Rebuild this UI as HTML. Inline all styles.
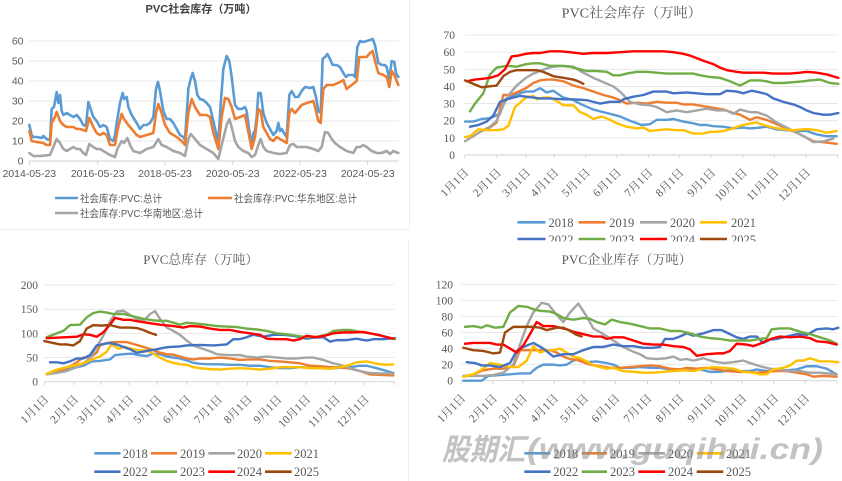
<!DOCTYPE html>
<html><head><meta charset="utf-8"><style>
html,body{margin:0;padding:0;background:#fff;}
svg{display:block;}
.s{font-family:"Liberation Sans","Noto Sans CJK SC",sans-serif;}
.r{font-family:"Liberation Serif","Noto Serif CJK SC",serif;}
.g{stroke:#E3E3E3;stroke-width:0.8;}
.ax{stroke:#D0D0D0;stroke-width:0.9;}
.ln{fill:none;stroke-width:2.4;stroke-linejoin:round;stroke-linecap:round;}
.ln2{fill:none;stroke-width:2.6;stroke-linejoin:round;stroke-linecap:round;}
.ln polyline,.ln2 polyline{vector-effect:non-scaling-stroke;}
</style></head><body>
<svg width="842" height="481" viewBox="0 0 842 481" xmlns="http://www.w3.org/2000/svg">
<rect width="842" height="481" fill="#fff"/>
<line x1="409.5" y1="0" x2="409.5" y2="229" stroke="#EDEDED"/>
<line x1="0" y1="229.5" x2="409.5" y2="229.5" stroke="#EDEDED"/>
<line x1="408.5" y1="240" x2="408.5" y2="481" stroke="#EFEFEF"/>

<!-- ========== TOP LEFT ========== -->
<g class="s">
<text x="201" y="12.5" text-anchor="middle" font-weight="bold" font-size="11" fill="#404040" textLength="111" lengthAdjust="spacingAndGlyphs">PVC社会库存（万吨）</text>
<g class="g">
<line x1="29.3" y1="141" x2="399" y2="141"/><line x1="29.3" y1="121" x2="399" y2="121"/>
<line x1="29.3" y1="101" x2="399" y2="101"/><line x1="29.3" y1="81" x2="399" y2="81"/>
<line x1="29.3" y1="61" x2="399" y2="61"/><line x1="29.3" y1="41" x2="399" y2="41"/>
</g>
<g class="ax">
<line x1="29.3" y1="161" x2="399" y2="161"/>
<line x1="29.3" y1="161" x2="29.3" y2="165"/><line x1="97.7" y1="161" x2="97.7" y2="165"/>
<line x1="165" y1="161" x2="165" y2="165"/><line x1="232.7" y1="161" x2="232.7" y2="165"/>
<line x1="300" y1="161" x2="300" y2="165"/><line x1="367.7" y1="161" x2="367.7" y2="165"/>
</g>
<g font-size="10.5" fill="#595959" text-anchor="end">
<text x="23.5" y="164.5">0</text><text x="23.5" y="144.5">10</text><text x="23.5" y="124.5">20</text>
<text x="23.5" y="104.5">30</text><text x="23.5" y="84.5">40</text><text x="23.5" y="64.5">50</text><text x="23.5" y="44.5">60</text>
</g>
<g font-size="10.5" fill="#595959" text-anchor="middle">
<text x="29.3" y="177">2014-05-23</text><text x="97.7" y="177">2016-05-23</text><text x="165" y="177">2018-05-23</text>
<text x="232.7" y="177">2020-05-23</text><text x="300" y="177">2022-05-23</text><text x="367.7" y="177">2024-05-23</text>
</g>
<g class="ln2" transform="matrix(0.333333 0 0 -2 0 161)">
<polyline stroke="#5B9BD5" points="88,18 95,13 100,12 110,12 125,11.5 130,12.5 140,11 150,10.5 155,26 162,27 170,34.5 175,29 180,33 185,25 190,23 200,24 210,23 220,22 230,23 240,21 250,18 258,17.5 265,29.5 272,26 280,22 290,20 300,17 310,18 320,17 330,11 340,10 345,13 352,21 360,29 368,34 372,31 380,32 385,27 395,23 410,19 420,16 430,18 440,18 450,19 460,22 468,36 474,39.5 480,35 490,25 500,21 510,21 520,19 530,16 540,13 550,12 555,10.5 565,36 572,41 578,44 585,40 592,33 600,31 610,30.5 620,29 630,27 640,20 648,14 655,10 662,28 670,46 680,52.5 688,50 695,42 705,28 715,26 725,26 735,27 740,25 748,15 755,8 760,14 765,15 770,22 775,34 782,34 790,24 800,19 810,16 820,13 830,15 835,19 840,15 845,16 852,14 860,12 868,33 875,35 885,32 895,32 905,35 915,37 930,36.5 940,37 948,32 955,25 962,24 968,51 975,52 982,53.5 990,51 998,48 1010,48 1020,47 1030,44 1038,42 1045,43 1060,43 1065,42 1072,57 1080,60 1090,59.5 1100,60 1110,60.5 1118,61 1125,58 1135,49 1145,48 1155,48 1160,47 1168,41 1175,50 1183,49.5 1188,44 1195,42"/>
<polyline stroke="#ED7D31" points="88,15 95,10 110,9.5 130,9 140,8 150,8 155,19 165,22 170,24.5 180,20 190,18 200,17 210,17 220,17 230,16 240,16 258,15 268,21.5 280,17 290,14 300,13 310,14 320,13 330,8 345,8 352,15 365,23.5 372,21 385,18 400,15 410,13 420,12 440,13 460,14 468,24 475,28.5 485,24 495,18 510,14 530,12 545,10 555,8 565,24 575,31 585,27 600,23 620,23 630,22 640,14 655,6 665,22 675,31.5 685,31 695,27 705,21 720,22 735,23 748,12 755,6 765,12 775,26 782,25 790,17 800,14 810,11 820,10 830,12 840,11 860,9 868,24 875,26 885,24 895,26 905,28 920,29 940,30 948,25 955,20 962,19 970,36 980,38 1000,38 1020,39.5 1030,40.5 1040,36 1055,38 1070,40 1078,52 1090,52 1100,52 1110,54 1118,55 1125,50 1135,44 1150,43 1160,42 1168,37 1175,45 1183,43 1195,38"/>
<polyline stroke="#A5A5A5" points="88,4 100,2.5 120,2.5 150,3 160,7 170,11 180,9 190,6 200,5 210,6 220,7 230,6 240,6 250,4 258,3 268,8.5 280,7 290,6 300,6 310,5 320,4 330,3 345,2 352,6 365,10 372,9 382,11.5 390,8 400,5 420,4 440,6 460,7 475,11 485,8 500,7 520,5 540,4 555,2.5 565,11 572,13.5 580,12 590,10 600,8 620,6 640,4 650,2 655,1 665,8 680,18 688,21 695,17 705,10 715,7 730,5 745,4 755,2 765,3 775,8 782,11 790,7 800,5 820,4 840,3.5 860,4 870,8 880,8.5 890,7 900,7 920,7 940,6 955,5 965,7 975,14.5 985,14 995,11 1005,9 1020,7 1040,5 1060,4 1070,7 1080,7 1090,8 1100,7 1115,5 1130,4 1145,4 1160,5 1170,3.5 1180,5 1195,4"/>
</g>
<g stroke-width="2.6">
<line x1="55" y1="198" x2="78" y2="198" stroke="#5B9BD5"/>
<line x1="208" y1="198" x2="232" y2="198" stroke="#ED7D31"/>
<line x1="55" y1="213" x2="78" y2="213" stroke="#A5A5A5"/>
</g>
<g font-size="10.5" fill="#595959">
<text x="80" y="201.8" textLength="82" lengthAdjust="spacingAndGlyphs">社会库存:PVC:总计</text>
<text x="234" y="201.8" textLength="123" lengthAdjust="spacingAndGlyphs">社会库存:PVC:华东地区:总计</text>
<text x="80" y="216.8" textLength="123" lengthAdjust="spacingAndGlyphs">社会库存:PVC:华南地区:总计</text>
</g>
</g>

<!-- ========== TOP RIGHT ========== -->
<g class="r">
<text x="631.7" y="17.5" text-anchor="middle" font-size="14" fill="#595959" textLength="140" lengthAdjust="spacingAndGlyphs">PVC社会库存（万吨）</text>
<g class="g">
<line x1="465" y1="137.86" x2="838" y2="137.86"/><line x1="465" y1="120.71" x2="838" y2="120.71"/>
<line x1="465" y1="103.57" x2="838" y2="103.57"/><line x1="465" y1="86.43" x2="838" y2="86.43"/>
<line x1="465" y1="69.29" x2="838" y2="69.29"/><line x1="465" y1="52.14" x2="838" y2="52.14"/>
<line x1="465" y1="35" x2="838" y2="35"/>
</g>
<g class="ax">
<line x1="465" y1="155" x2="838" y2="155"/>
<line x1="464.3" y1="155" x2="464.3" y2="158"/><line x1="496.7" y1="155" x2="496.7" y2="158"/>
<line x1="526" y1="155" x2="526" y2="158"/><line x1="554.3" y1="155" x2="554.3" y2="158"/>
<line x1="585.7" y1="155" x2="585.7" y2="158"/><line x1="616.7" y1="155" x2="616.7" y2="158"/>
<line x1="648.3" y1="155" x2="648.3" y2="158"/><line x1="679.3" y1="155" x2="679.3" y2="158"/>
<line x1="711" y1="155" x2="711" y2="158"/><line x1="742.7" y1="155" x2="742.7" y2="158"/>
<line x1="774.3" y1="155" x2="774.3" y2="158"/><line x1="806" y1="155" x2="806" y2="158"/>
<line x1="837.7" y1="155" x2="837.7" y2="158"/>
</g>
<g font-size="11.5" fill="#595959" text-anchor="end">
<text x="455" y="159">0</text><text x="455" y="141.9">10</text><text x="455" y="124.7">20</text>
<text x="455" y="107.6">30</text><text x="455" y="90.4">40</text><text x="455" y="73.3">50</text>
<text x="455" y="56.1">60</text><text x="455" y="39">70</text>
</g>
<g font-size="11.5" fill="#595959" text-anchor="end" dominant-baseline="central">
<text transform="translate(467.3,171) rotate(-45)">1月1日</text>
<text transform="translate(499.7,171) rotate(-45)">2月1日</text>
<text transform="translate(529,171) rotate(-45)">3月1日</text>
<text transform="translate(557.3,171) rotate(-45)">4月1日</text>
<text transform="translate(588.7,171) rotate(-45)">5月1日</text>
<text transform="translate(619.7,171) rotate(-45)">6月1日</text>
<text transform="translate(651.3,171) rotate(-45)">7月1日</text>
<text transform="translate(682.3,171) rotate(-45)">8月1日</text>
<text transform="translate(714,171) rotate(-45)">9月1日</text>
<text transform="translate(745.7,171) rotate(-45)">10月1日</text>
<text transform="translate(777.3,171) rotate(-45)">11月1日</text>
<text transform="translate(809,171) rotate(-45)">12月1日</text>
</g>
<g class="ln" transform="matrix(0.333333 0 0 -1.714286 420 155)">
<polyline stroke="#5B9BD5" points="135,19.5 160,19.5 185,21 210,21.5 240,24 258,33 290,35.5 318,37 340,37 360,39 380,36.5 400,37.5 430,33.5 460,32 490,29 520,26.5 550,25 580,23.5 600,22.5 630,20 665,17.5 690,18 710,20.5 740,20.5 760,21 790,19.5 820,18.5 840,17.5 860,17.5 880,16.8 910,16.5 940,15.5 970,16 990,15.5 1010,15.8 1040,16.5 1070,15 1100,14.5 1130,14 1160,14 1190,12 1220,11 1250,11"/>
<polyline stroke="#ED7D31" points="185,14 210,16 230,19 250,35 270,35 290,36.5 318,39 340,42 360,43.5 380,44 400,44 430,43 460,40.5 490,39 520,37 550,35 580,33.5 600,32 620,30 650,30.5 680,30 710,31 740,30.5 770,30.5 790,29.5 820,29.5 850,28.5 880,27.5 910,26.5 940,24.5 960,23.5 990,20.5 1010,22 1040,20.5 1070,18 1100,15.5 1130,13 1160,10 1180,8 1210,7.5 1250,6.5"/>
<polyline stroke="#A5A5A5" points="135,8 160,11 185,14 210,16.5 230,20 250,29 270,36 290,40.5 318,45 340,47.5 360,49 380,50.5 400,51.5 430,52 460,51.5 490,48 520,45 550,42.5 580,40 600,37 630,31 660,29.5 690,29 710,28 740,25 770,26 800,25 830,26 860,27 890,26 920,26 940,24 960,26.5 990,25 1010,25 1040,23 1070,19 1100,16 1130,13 1160,10 1180,7.5 1210,8 1240,9.5"/>
<polyline stroke="#FFC000" points="135,10.5 150,11 175,15 200,14.5 230,14.5 250,15 265,17 285,28 318,33.5 340,34.5 350,32.5 370,33.5 390,33.5 410,31.5 430,29 460,29 480,25 500,23.5 520,21 545,22.5 570,20.5 590,18.5 620,16.5 650,15.5 670,16 690,14 710,14.5 740,15 770,14.5 790,14.5 820,12.5 850,12.5 870,13.5 890,13.5 910,14 940,15.5 960,17 980,18 1010,19 1030,17.5 1060,16 1090,15 1120,14.5 1150,15 1170,15 1190,14.5 1220,13 1250,14"/>
<polyline stroke="#4472C4" points="150,16.5 175,17.5 200,19.5 220,23 240,31 270,33 300,34.5 318,34 340,33.5 360,33 390,33 430,32.5 460,32.5 500,32 520,31 540,30 570,31 600,31 610,32.5 640,34 670,35 700,37 740,37 760,36 800,36.5 830,36 860,35.5 900,35.5 920,37.5 950,37 970,36 995,37.5 1020,36.5 1040,35.5 1060,33 1090,31 1120,29.5 1140,28 1160,26 1180,24.5 1210,23.5 1230,23.5 1255,24.5"/>
<polyline stroke="#70AD47" points="150,25.5 165,30 190,36 210,47 230,51 260,52 290,51.5 318,53 340,53.5 360,53.5 390,52 420,52 450,51.5 480,50 500,49 530,49 560,48.5 580,46.5 600,46.5 620,47.5 650,48.5 680,48.5 710,48 740,47.5 770,47.5 800,47.5 820,47.5 840,46.5 870,45.5 900,45 930,43 960,40.5 990,43.5 1020,43.5 1040,43 1060,42 1090,42 1120,42.5 1150,43 1170,43.5 1200,44 1230,42 1255,41.5"/>
<polyline stroke="#FF0000" points="140,43 165,44 190,44.5 210,45 235,46.5 255,50 275,57.5 295,58 318,59 340,59.5 360,59.5 390,60.5 420,60.5 450,60 490,59 520,59.5 560,59.5 600,60 640,60.5 680,60.5 700,60.5 730,60.5 760,60 790,59 810,58 830,56.5 850,55 880,53 900,51 920,49.5 950,48.5 970,48 1000,48 1030,48 1060,47.5 1080,47.5 1110,47.5 1140,48 1160,48.5 1190,48 1220,47 1255,45"/>
<polyline stroke="#9E480E" points="135,43.5 160,41.5 185,39.5 205,40 230,40.5 250,46 270,48.5 290,49.5 318,49.5 350,49.5 370,48.5 400,46 430,45 460,44 475,43 490,41.5"/>
</g>
<g stroke-width="2.6">
<line x1="517.5" y1="222.3" x2="545.5" y2="222.3" stroke="#5B9BD5"/>
<line x1="578.5" y1="222.3" x2="605.5" y2="222.3" stroke="#ED7D31"/>
<line x1="640" y1="222.3" x2="667" y2="222.3" stroke="#A5A5A5"/>
<line x1="700" y1="222.3" x2="727" y2="222.3" stroke="#FFC000"/>
<line x1="517.5" y1="239" x2="545.5" y2="239" stroke="#4472C4"/>
<line x1="578.5" y1="239" x2="605.5" y2="239" stroke="#70AD47"/>
<line x1="640" y1="239" x2="667" y2="239" stroke="#FF0000"/>
<line x1="700" y1="239" x2="727" y2="239" stroke="#9E480E"/>
</g>
<g font-size="12.5" fill="#595959">
<text x="548.5" y="226.8">2018</text><text x="609.3" y="226.8">2019</text>
<text x="670" y="226.8">2020</text><text x="731" y="226.8">2021</text>
<text x="548.5" y="244">2022</text><text x="609.3" y="244">2023</text>
<text x="670" y="244">2024</text><text x="731" y="244">2025</text>
</g>
</g>
<rect x="415" y="241.5" width="427" height="12" fill="#fff"/>

<!-- ========== BOTTOM LEFT ========== -->
<g class="r">
<text x="200.8" y="264" text-anchor="middle" font-size="13" fill="#595959" textLength="115" lengthAdjust="spacingAndGlyphs">PVC总库存（万吨）</text>
<g class="g">
<line x1="44.3" y1="357.5" x2="394.3" y2="357.5"/><line x1="44.3" y1="333.3" x2="394.3" y2="333.3"/>
<line x1="44.3" y1="309.2" x2="394.3" y2="309.2"/><line x1="44.3" y1="285" x2="394.3" y2="285"/>
</g>
<g class="ax">
<line x1="44.3" y1="381.7" x2="394.3" y2="381.7"/>
<line x1="44.3" y1="381.7" x2="44.3" y2="385"/><line x1="74" y1="381.7" x2="74" y2="385"/>
<line x1="101" y1="381.7" x2="101" y2="385"/><line x1="129.3" y1="381.7" x2="129.3" y2="385"/>
<line x1="157.3" y1="381.7" x2="157.3" y2="385"/><line x1="186.7" y1="381.7" x2="186.7" y2="385"/>
<line x1="217.9" y1="381.7" x2="217.9" y2="385"/><line x1="247.6" y1="381.7" x2="247.6" y2="385"/>
<line x1="277.3" y1="381.7" x2="277.3" y2="385"/><line x1="306.1" y1="381.7" x2="306.1" y2="385"/>
<line x1="335.8" y1="381.7" x2="335.8" y2="385"/><line x1="364.6" y1="381.7" x2="364.6" y2="385"/>
<line x1="394.3" y1="381.7" x2="394.3" y2="385"/>
</g>
<g font-size="11.5" fill="#595959" text-anchor="end">
<text x="38" y="385.7">0</text><text x="38" y="361.5">50</text><text x="38" y="337.3">100</text>
<text x="38" y="313.2">150</text><text x="38" y="289">200</text>
</g>
<g font-size="11.5" fill="#595959" text-anchor="end" dominant-baseline="central">
<text transform="translate(47.3,397.7) rotate(-45)">1月1日</text>
<text transform="translate(77,397.7) rotate(-45)">2月1日</text>
<text transform="translate(104,397.7) rotate(-45)">3月1日</text>
<text transform="translate(132.3,397.7) rotate(-45)">4月1日</text>
<text transform="translate(160.3,397.7) rotate(-45)">5月1日</text>
<text transform="translate(189.7,397.7) rotate(-45)">6月1日</text>
<text transform="translate(220.9,397.7) rotate(-45)">7月1日</text>
<text transform="translate(250.6,397.7) rotate(-45)">8月1日</text>
<text transform="translate(280.3,397.7) rotate(-45)">9月1日</text>
<text transform="translate(309.1,397.7) rotate(-45)">10月1日</text>
<text transform="translate(338.8,397.7) rotate(-45)">11月1日</text>
<text transform="translate(367.6,397.7) rotate(-45)">12月1日</text>
</g>
<g class="ln" transform="matrix(0.333333 0 0 -0.4835 0 381.7)">
<polyline stroke="#5B9BD5" points="140,16 170,20 200,25 230,30 250,33 275,42 300,43 320,45 330,46 345,55 370,57 395,58 415,55 440,53 460,58 480,57 500,52 520,50 540,48 560,44 580,39 600,37 630,36 660,36 690,35 720,35 750,33 780,33 810,30 840,28 870,28 900,30 930,29 960,28 990,27 1020,29 1050,30 1080,33 1100,33 1130,28 1160,22 1180,18"/>
<polyline stroke="#ED7D31" points="140,16 170,20 200,28 230,40 250,50 270,50 290,60 300,75 320,80 340,82 360,82 380,82 400,78 420,74 440,70 460,65 480,60 500,57 520,56 540,52 560,48 580,46 600,48 630,48 660,50 690,48 720,45 750,46 780,46 810,43 840,42 870,40 900,38 930,33 960,32 990,30 1020,30 1050,27 1080,22 1110,15 1140,14 1180,13"/>
<polyline stroke="#A5A5A5" points="140,15 170,18 200,22 230,30 250,38 270,48 290,72 310,95 330,125 350,145 370,147 390,138 410,130 430,125 450,140 465,146 480,130 500,112 520,105 540,97 560,85 580,75 600,70 630,63 650,57 680,55 720,55 740,52 770,50 800,52 830,50 860,48 890,48 920,50 940,50 970,45 1000,38 1020,35 1050,28 1080,22 1110,18 1140,17 1180,17"/>
<polyline stroke="#FFC000" points="140,16 170,25 200,30 230,35 250,38 280,47 300,52 320,62 335,78 355,68 375,72 395,68 420,65 440,65 460,58 480,50 500,43 520,39 540,36 560,35 580,30 600,28 630,26 660,25 690,27 720,28 750,27 780,25 810,27 840,30 870,30 900,30 930,28 960,28 990,27 1020,30 1050,35 1070,40 1100,42 1130,37 1160,35 1180,36"/>
<polyline stroke="#4472C4" points="150,40 170,40 190,38 210,42 230,48 250,48 270,55 290,75 310,78 330,80 350,77 370,72 390,67 410,60 430,62 450,65 470,67 490,70 510,72 540,73 560,75 600,76 640,75 680,77 700,88 720,88 740,92 760,97 790,93 820,97 850,97 880,95 900,92 920,89 940,91 970,92 990,83 1010,86 1040,86 1070,89 1100,85 1120,88 1150,88 1185,90"/>
<polyline stroke="#70AD47" points="140,92 170,100 190,105 210,117 240,118 260,133 280,142 300,145 320,143 340,140 370,140 400,135 430,130 460,127 480,126 500,126 520,122 540,118 560,122 590,120 620,118 650,115 680,114 710,113 740,110 770,108 800,105 830,100 860,98 890,95 920,92 950,93 980,97 1000,105 1030,107 1050,107 1080,103 1110,100 1140,96 1185,88"/>
<polyline stroke="#FF0000" points="140,90 170,91 200,92 230,93 250,98 270,97 290,93 310,102 330,118 345,132 370,128 390,128 420,124 450,121 480,118 520,115 550,112 570,115 600,114 630,110 660,107 690,107 720,103 750,100 780,97 800,89 830,88 860,88 880,85 900,88 920,95 950,92 980,96 1000,100 1030,102 1060,102 1090,103 1110,100 1140,96 1160,92 1180,89"/>
<polyline stroke="#9E480E" points="133,84 160,80 180,77 200,77 220,75 240,84 260,110 280,117 300,116 330,117 360,112 390,112 410,111 430,107 450,101 468,97"/>
</g>
<g stroke-width="2.6">
<line x1="94.3" y1="453.3" x2="120.5" y2="453.3" stroke="#5B9BD5"/>
<line x1="151" y1="453.3" x2="177" y2="453.3" stroke="#ED7D31"/>
<line x1="208.3" y1="453.3" x2="235" y2="453.3" stroke="#A5A5A5"/>
<line x1="265" y1="453.3" x2="291.7" y2="453.3" stroke="#FFC000"/>
<line x1="94.3" y1="471.7" x2="120.5" y2="471.7" stroke="#4472C4"/>
<line x1="151" y1="471.7" x2="177" y2="471.7" stroke="#70AD47"/>
<line x1="208.3" y1="471.7" x2="235" y2="471.7" stroke="#FF0000"/>
<line x1="265" y1="471.7" x2="291.7" y2="471.7" stroke="#9E480E"/>
</g>
<g font-size="12.5" fill="#595959">
<text x="122.7" y="457.8">2018</text><text x="180" y="457.8">2019</text>
<text x="237" y="457.8">2020</text><text x="294" y="457.8">2021</text>
<text x="122.7" y="476.2">2022</text><text x="180" y="476.2">2023</text>
<text x="237" y="476.2">2024</text><text x="294" y="476.2">2025</text>
</g>
</g>

<!-- ========== BOTTOM RIGHT ========== -->
<g class="r">
<text x="626.7" y="264" text-anchor="middle" font-size="13" fill="#595959" textLength="130" lengthAdjust="spacingAndGlyphs">PVC企业库存（万吨）</text>
<g class="g">
<line x1="461" y1="364.6" x2="837" y2="364.6"/><line x1="461" y1="348.6" x2="837" y2="348.6"/>
<line x1="461" y1="332.5" x2="837" y2="332.5"/><line x1="461" y1="316.4" x2="837" y2="316.4"/>
<line x1="461" y1="300.4" x2="837" y2="300.4"/><line x1="461" y1="284.3" x2="837" y2="284.3"/>
</g>
<g class="ax">
<line x1="461" y1="380.7" x2="837" y2="380.7"/>
<line x1="461" y1="380.7" x2="461" y2="384"/><line x1="492.7" y1="380.7" x2="492.7" y2="384"/>
<line x1="522.7" y1="380.7" x2="522.7" y2="384"/><line x1="554" y1="380.7" x2="554" y2="384"/>
<line x1="584" y1="380.7" x2="584" y2="384"/><line x1="615.3" y1="380.7" x2="615.3" y2="384"/>
<line x1="647.4" y1="380.7" x2="647.4" y2="384"/><line x1="679.4" y1="380.7" x2="679.4" y2="384"/>
<line x1="711.3" y1="380.7" x2="711.3" y2="384"/><line x1="742.2" y1="380.7" x2="742.2" y2="384"/>
<line x1="774.1" y1="380.7" x2="774.1" y2="384"/><line x1="805" y1="380.7" x2="805" y2="384"/>
<line x1="837" y1="380.7" x2="837" y2="384"/>
</g>
<g font-size="11.5" fill="#595959" text-anchor="end">
<text x="453" y="384.7">0</text><text x="453" y="368.6">20</text><text x="453" y="352.6">40</text>
<text x="453" y="336.5">60</text><text x="453" y="320.4">80</text><text x="453" y="304.4">100</text>
<text x="453" y="288.3">120</text>
</g>
<g font-size="11.5" fill="#595959" text-anchor="end" dominant-baseline="central">
<text transform="translate(464,396.7) rotate(-45)">1月1日</text>
<text transform="translate(495.7,396.7) rotate(-45)">2月1日</text>
<text transform="translate(525.7,396.7) rotate(-45)">3月1日</text>
<text transform="translate(557,396.7) rotate(-45)">4月1日</text>
<text transform="translate(587,396.7) rotate(-45)">5月1日</text>
<text transform="translate(618.3,396.7) rotate(-45)">6月1日</text>
<text transform="translate(650.4,396.7) rotate(-45)">7月1日</text>
<text transform="translate(682.4,396.7) rotate(-45)">8月1日</text>
<text transform="translate(714.3,396.7) rotate(-45)">9月1日</text>
<text transform="translate(745.2,396.7) rotate(-45)">10月1日</text>
<text transform="translate(777.1,396.7) rotate(-45)">11月1日</text>
<text transform="translate(808,396.7) rotate(-45)">12月1日</text>
</g>
<g class="ln" transform="matrix(0.333333 0 0 -0.80333 420 380.7)">
<polyline stroke="#5B9BD5" points="130,0 185,0 205,6 240,7 270,8 300,9 330,9 350,16 370,20 400,20 420,19 440,20 460,25 480,27 500,23 530,24 560,22 580,20 600,16 630,16 660,17 690,16 720,16 750,14 780,14 810,15 840,14 870,11 900,11 930,13 960,12 990,12 1010,14 1040,12 1060,12 1100,13 1130,14 1160,18 1190,18 1220,15 1250,8"/>
<polyline stroke="#ED7D31" points="130,5 160,8 190,13 220,15 250,15 280,18 300,38 330,38 360,38 390,38 410,35 430,30 450,27 470,26 490,23 510,20 540,18 570,16 600,16 630,17 660,18 690,19 720,18 750,15 780,14 800,16 830,15 860,16 890,14 920,12 950,11 980,11 1010,10 1040,11 1070,12 1100,12 1130,10 1160,8 1180,5 1210,6 1250,5"/>
<polyline stroke="#A5A5A5" points="130,6 160,6 190,6 220,7 250,10 280,20 300,45 320,68 340,85 365,97 385,95 410,82 430,73 450,85 475,96 500,80 520,65 550,58 580,50 610,42 640,36 660,33 680,28 710,27 740,28 760,30 780,26 800,27 820,25 850,28 880,24 910,22 940,23 970,25 990,22 1020,18 1050,15 1080,14 1110,12 1140,12 1170,10 1200,10 1250,8"/>
<polyline stroke="#FFC000" points="130,5 160,8 190,15 210,22 240,20 270,17 295,17 320,25 340,43 360,35 380,38 400,38 420,40 440,35 460,30 480,28 500,24 520,19 540,17 560,15 580,16 610,12 640,11 670,10 700,10 730,11 760,12 790,13 820,12 850,15 880,17 910,16 940,15 970,11 1000,10 1020,8 1040,8 1060,14 1090,16 1110,19 1130,25 1150,25 1170,28 1200,24 1230,24 1255,23"/>
<polyline stroke="#4472C4" points="140,23 165,22 185,19 210,19 240,17 270,22 290,37 310,42 340,47 370,40 400,30 430,33 460,33 490,38 520,42 550,42 580,45 610,43 640,43 670,41 700,41 720,42 735,52 760,52 780,55 800,59 820,56 850,59 880,63 905,63 930,58 950,54 970,52 990,55 1010,55 1030,47 1050,51 1070,52 1100,55 1130,58 1160,57 1190,64 1220,65 1240,64 1255,66"/>
<polyline stroke="#70AD47" points="135,67 160,68 185,66 200,69 225,66 250,67 270,85 295,93 320,92 340,89 360,87 390,86 410,83 430,78 460,76 490,78 510,77 530,73 555,70 575,76 600,73 630,71 660,68 690,65 720,65 750,62 780,62 810,59 840,55 870,53 900,52 930,50 960,50 990,50 1020,52 1040,53 1055,64 1080,65 1110,65 1140,61 1170,58 1200,54 1230,50 1250,46"/>
<polyline stroke="#FF0000" points="135,46 160,47 185,47 210,47 230,45 250,45 270,40 290,35 310,44 330,58 350,73 370,68 400,68 420,66 440,64 460,61 480,59 500,57 520,55 545,55 560,52 580,54 610,54 640,50 670,46 700,45 730,45 760,43 790,42 810,39 830,31 860,33 890,34 910,34 930,37 950,46 980,45 1000,43 1020,46 1040,50 1060,53 1080,55 1110,54 1140,55 1170,53 1190,49 1220,48 1250,45"/>
<polyline stroke="#9E480E" points="130,41 160,38 190,37 220,34 240,35 255,60 280,67 310,67 340,67 360,66 380,63 410,66 430,66 450,62 470,57 485,55"/>
</g>
<g stroke-width="2.6">
<line x1="524.3" y1="453.3" x2="550.5" y2="453.3" stroke="#5B9BD5"/>
<line x1="581.7" y1="453.3" x2="607" y2="453.3" stroke="#ED7D31"/>
<line x1="638.3" y1="453.3" x2="665" y2="453.3" stroke="#A5A5A5"/>
<line x1="696.7" y1="453.3" x2="723.3" y2="453.3" stroke="#FFC000"/>
<line x1="524.3" y1="471.7" x2="550.5" y2="471.7" stroke="#4472C4"/>
<line x1="581.7" y1="471.7" x2="607" y2="471.7" stroke="#70AD47"/>
<line x1="638.3" y1="471.7" x2="665" y2="471.7" stroke="#FF0000"/>
<line x1="696.7" y1="471.7" x2="723.3" y2="471.7" stroke="#9E480E"/>
</g>
<g font-size="12.5" fill="#595959">
<text x="553.3" y="457.8">2018</text><text x="610" y="457.8">2019</text>
<text x="668" y="457.8">2020</text><text x="726" y="457.8">2021</text>
<text x="553.3" y="476.2">2022</text><text x="610" y="476.2">2023</text>
<text x="668" y="476.2">2024</text><text x="726" y="476.2">2025</text>
</g>
</g>

<!-- watermark -->
<g font-weight="bold" font-style="italic" font-size="30" fill="#8f8f8f" fill-opacity="0.55">
<text x="442" y="460" textLength="83" lengthAdjust="spacingAndGlyphs" font-family="'Liberation Sans','Noto Sans CJK SC',sans-serif">股期汇</text>
<text x="527" y="459" textLength="296" lengthAdjust="spacingAndGlyphs" font-family="'Liberation Sans',sans-serif">(www.guqihui.cn)</text>
</g>
</svg>
</body></html>
